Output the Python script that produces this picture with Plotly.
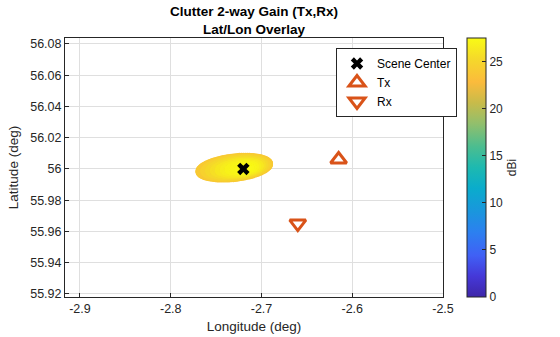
import numpy as np
import plotly.graph_objects as go

# --- points of interest (lon, lat) ---
scene_center = (-2.72, 56.0)
tx_pos = (-2.615, 56.006)
rx_pos = (-2.66, 55.965)

# --- clutter footprint: nested elliptical rings of patches ---
footprint_center = (-2.73, 56.0008)   # centre of the outer ring
footprint_peak = (-2.716, 56.0005)    # where the gain peaks
footprint_semi_lon = 0.040            # semi-axis along longitude
footprint_semi_lat = 0.0076           # semi-axis along latitude
footprint_tilt = 0.06                 # lat change per unit lon along the major axis
ring_scale = [1.0, 0.9, 0.8, 0.7, 0.6, 0.5, 0.4, 0.3, 0.2, 0.1]
ring_gain_dbi = [24.0, 24.6, 25.2, 25.7, 26.2, 26.6, 26.9, 27.1, 27.25, 27.35]
patches_per_ring = 110

# --- axes / colour bar ---
x_range = [-2.9165, -2.5]
y_range = [55.918, 56.0838]
x_ticks = [-2.9, -2.8, -2.7, -2.6, -2.5]
x_tick_labels = ["-2.9", "-2.8", "-2.7", "-2.6", "-2.5"]
y_ticks = [55.92, 55.94, 55.96, 55.98, 56.0, 56.02, 56.04, 56.06, 56.08]
y_tick_labels = ["55.92", "55.94", "55.96", "55.98", "56", "56.02", "56.04", "56.06", "56.08"]
gain_range = [0, 27.5]
gain_ticks = [0, 5, 10, 15, 20, 25]

parula = [
    [0.00, "#3e26a8"], [0.08, "#4538d8"], [0.16, "#4060f5"], [0.25, "#2c80f0"],
    [0.33, "#1a96dd"], [0.42, "#0aaccc"], [0.50, "#1db9b0"], [0.58, "#4bbd90"],
    [0.67, "#92bf6c"], [0.75, "#c8bb4a"], [0.83, "#fbbb3c"], [0.92, "#f5d92a"],
    [1.00, "#f9fb15"],
]

# build footprint patch positions, outer rings first so inner ones sit on top
lons, lats, gains = [], [], []
t = np.linspace(0, 2 * np.pi, patches_per_ring, endpoint=False)
for s, g in zip(ring_scale, ring_gain_dbi):
    cx = footprint_peak[0] + (footprint_center[0] - footprint_peak[0]) * s
    cy = footprint_peak[1] + (footprint_center[1] - footprint_peak[1]) * s
    dx = s * footprint_semi_lon * np.cos(t)
    dy = s * footprint_semi_lat * np.sin(t) + footprint_tilt * dx
    lons.extend(cx + dx)
    lats.extend(cy + dy)
    gains.extend([g] * patches_per_ring)

font = "Liberation Sans, Arial, sans-serif"
ink = "#262626"
orange = "#D95319"

fig = go.Figure()

fig.add_trace(go.Scatter(
    x=lons, y=lats, mode="markers", showlegend=False, hoverinfo="skip",
    marker=dict(size=5, color=gains, coloraxis="coloraxis", line=dict(width=0)),
))

fig.add_trace(go.Scatter(
    x=[scene_center[0]], y=[scene_center[1]], mode="markers", name="Scene Center",
    marker=dict(symbol="x", size=11, color="black", line=dict(width=0)),
))
fig.add_trace(go.Scatter(
    x=[tx_pos[0]], y=[tx_pos[1]], mode="markers", name="Tx",
    marker=dict(symbol="triangle-up-open", size=14, color=orange, line=dict(width=3, color=orange)),
))
fig.add_trace(go.Scatter(
    x=[rx_pos[0]], y=[rx_pos[1]], mode="markers", name="Rx",
    marker=dict(symbol="triangle-down-open", size=14, color=orange, line=dict(width=3, color=orange)),
))

axis_common = dict(
    showline=True, mirror=True, linecolor=ink, linewidth=1,
    ticks="inside", ticklen=4, tickcolor=ink,
    showgrid=True, gridcolor="#dfdfdf", gridwidth=1, zeroline=False,
    tickfont=dict(family=font, size=12.5, color=ink),
    automargin=False,
)

fig.update_layout(
    width=560, height=337,
    margin=dict(l=65, r=117, t=38, b=40, autoexpand=False),
    paper_bgcolor="white", plot_bgcolor="white",
    font=dict(family=font, color=ink),
    title=dict(
        text="<b>Clutter 2-way Gain (Tx,Rx)<br>Lat/Lon Overlay</b>",
        x=(65 + 443) / 2 / 560, xanchor="center",
        yref="paper", y=1, yanchor="bottom", pad=dict(b=22),
        font=dict(family=font, size=13.5, color="black"),
    ),
    xaxis=dict(
        range=x_range, tickvals=x_ticks, ticktext=x_tick_labels,
        title=dict(text="Longitude (deg)", font=dict(family=font, size=13.5, color=ink), standoff=6),
        **axis_common,
    ),
    yaxis=dict(
        range=y_range, tickvals=y_ticks, ticktext=y_tick_labels,
        title=dict(text="Latitude (deg)", font=dict(family=font, size=13.5, color=ink), standoff=8),
        **axis_common,
    ),
    coloraxis=dict(
        colorscale=parula, cmin=gain_range[0], cmax=gain_range[1],
        colorbar=dict(
            x=(467 - 65) / 378, xanchor="left", xref="paper",
            y=0, yanchor="bottom", yref="paper", len=1, lenmode="fraction",
            ypad=0, xpad=0,
            thickness=19, outlinecolor=ink, outlinewidth=1,
            ticks="inside", ticklen=4, tickcolor=ink,
            tickvals=gain_ticks, tickfont=dict(family=font, size=12, color=ink),
            title=dict(text="dBi", side="right", font=dict(family=font, size=12, color=ink)),
        ),
    ),
    legend=dict(
        x=(336 - 65) / 378, xanchor="left", y=1 - (48 - 38) / 259, yanchor="top",
        bgcolor="white", bordercolor=ink, borderwidth=1,
        font=dict(family=font, size=12, color="black"),
        itemwidth=30, tracegroupgap=0,
    ),
)

fig.write_html("out.html")
